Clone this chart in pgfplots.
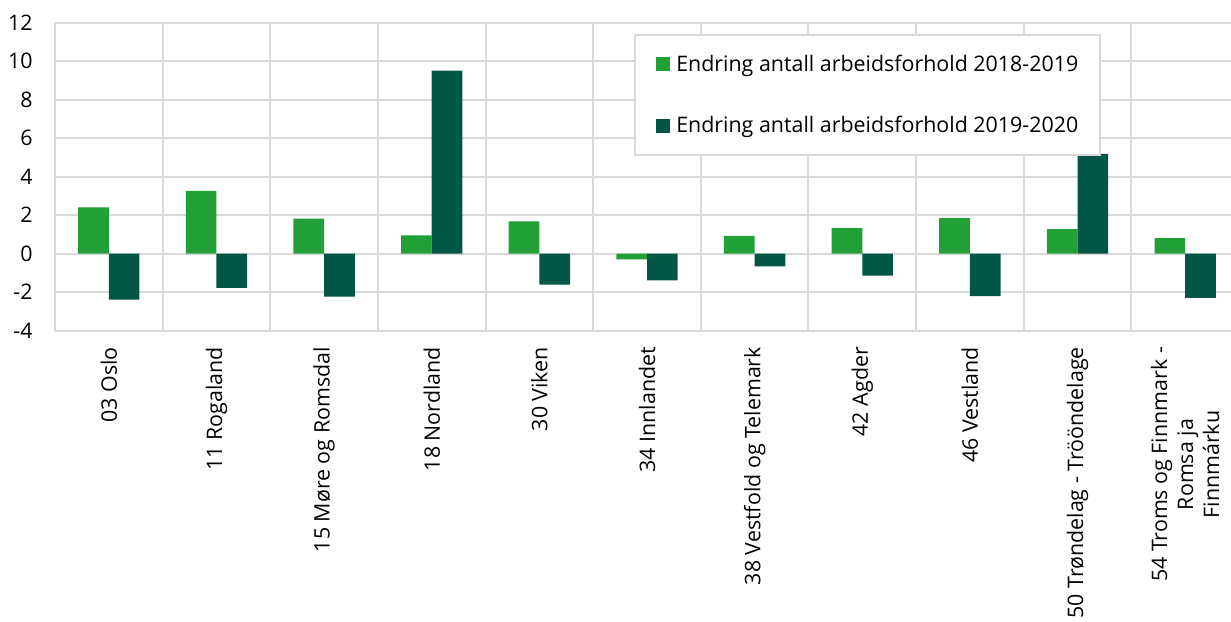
\documentclass[border=0pt]{standalone}
\usepackage{pgfplots}
\pgfplotsset{compat=1.18}
\usepackage{fontspec}
\setmainfont{Open Sans}
\usetikzlibrary{calc}
\definecolor{lg}{RGB}{33,160,56}
\definecolor{dg}{RGB}{2,86,70}
\definecolor{gridc}{RGB}{217,217,217}
\begin{document}
\begin{tikzpicture}
\begin{axis}[
 name=ax,
 scale only axis,
 width=588pt, height=154pt,
 xmin=-0.5, xmax=10.4257, ymin=-4, ymax=12,
 axis line style={draw=none},
 ytick={-4,-2,0,2,4,6,8,10,12},
 yticklabels={-4,-2,0,2,4,6,8,10,12},
 ymajorgrids,
 xtick={0,1,2,3,4,5,6,7,8,9,10},
 xticklabels={03 Oslo,11 Rogaland,15 Møre og Romsdal,18 Nordland,30 Viken,34 Innlandet,38 Vestfold og Telemark,42 Agder,46 Vestland,50 Trøndelag - Trööndelage,{54 Troms og Finnmark -\\Romsa ja\\Finnmárku}},
 minor xtick={-0.5,0.5,1.5,2.5,3.5,4.5,5.5,6.5,7.5,8.5,9.5},
 xminorgrids,
 grid style={gridc, line width=1pt},
 minor grid style={gridc, line width=1pt},
 major tick length=0pt, minor tick length=0pt,
 tick style={draw=none},
 tick label style={font=\fontsize{10.7}{13}\selectfont},
 xticklabel style={rotate=90, anchor=east, align=center, inner sep=0pt},
 xticklabel shift=8pt,
 yticklabel style={inner sep=0pt},
 yticklabel shift=11pt,
 ybar, bar width=0.285,
 legend style={at={(rel axis cs:0.4926,0.9643)}, anchor=north west, draw=gridc, line width=1pt, fill=white,
   inner xsep=9pt, inner ysep=8pt, row sep=17pt, font=\fontsize{10.7}{13}\selectfont},
 legend cell align=left,
 legend image code/.code={\path (0pt,0pt); \fill[#1] (1.5pt,-3.5pt) rectangle (8.5pt,3.5pt); \path (9.5pt,0pt);},
]
\addplot[fill=lg, draw=none, bar shift=-0.1425] coordinates {(0,2.41) (1,3.26) (2,1.82) (3,0.95) (4,1.68) (5,-0.29) (6,0.92) (7,1.33) (8,1.85) (9,1.28) (10,0.81)};
\addplot[fill=dg, draw=none, bar shift=0.1425] coordinates {(0,-2.39) (1,-1.77) (2,-2.23) (3,9.51) (4,-1.61) (5,-1.39) (6,-0.66) (7,-1.14) (8,-2.20) (9,5.18) (10,-2.30)};
\legend{Endring antall arbeidsforhold 2018-2019, Endring antall arbeidsforhold 2019-2020}
\end{axis}
\pgfresetboundingbox
\path[use as bounding box] ($(ax.south west)+(-27.5pt,-145.15pt)$) rectangle ($(ax.north east)+(0pt,11.35pt)$);
\end{tikzpicture}
\end{document}
